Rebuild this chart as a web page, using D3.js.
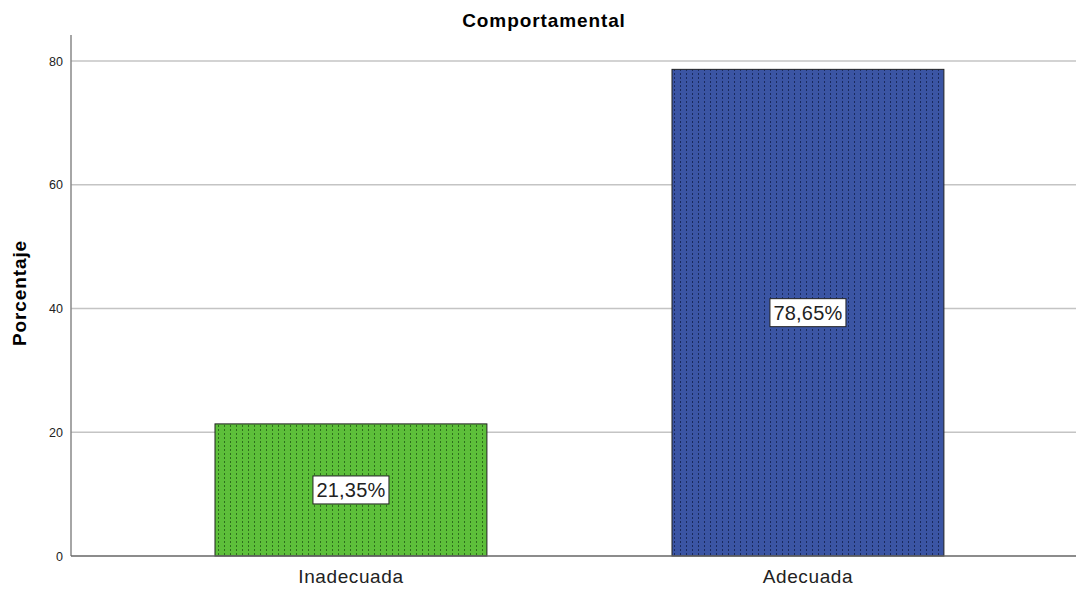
<!DOCTYPE html>
<html>
<head>
<meta charset="utf-8">
<script src="https://cdn.jsdelivr.net/npm/d3@7"></script>
<style>
  body { margin: 0; background: #fff; }
  svg { display: block; font-family: "Liberation Sans", Arial, sans-serif; }
</style>
</head>
<body>
<svg id="chart" width="1076" height="589"></svg>
<script>
const categories = ['Inadecuada', 'Adecuada'];
const values = [21.35, 78.65];
const yTicks = [0, 20, 40, 60, 80];
const fills = ['#5dbf3a', '#3b55a4'];
const dots = ['#2e6e1c', '#1a2a5e'];

const svg = d3.select('#chart');
const plot = { left: 71, right: 1076, top: 35, bottom: 556 };

const yScale = d3.scaleLinear().domain([0, 80]).range([plot.bottom, 61]);
const xScale = d3.scaleBand()
  .domain(categories)
  .range([169.3, 989.6])
  .paddingInner(0.405)
  .paddingOuter(0.1);

// dotted fill patterns
const defs = svg.append('defs');
fills.forEach((c, i) => {
  const p = defs.append('pattern')
    .attr('id', 'pat' + i)
    .attr('patternUnits', 'userSpaceOnUse')
    .attr('width', 6).attr('height', 4);
  p.append('rect').attr('width', 6).attr('height', 4).attr('fill', c);
  p.append('rect').attr('x', 2).attr('y', 1).attr('width', 1).attr('height', 2).attr('fill', dots[i]);
});

// gridlines
svg.append('g')
  .selectAll('line')
  .data(yTicks.filter(d => d > 0))
  .join('line')
  .attr('x1', plot.left).attr('x2', plot.right)
  .attr('y1', d => yScale(d)).attr('y2', d => yScale(d))
  .attr('stroke', '#c4c4c4').attr('stroke-width', 1.5);

// bars
svg.append('g')
  .selectAll('rect')
  .data(categories)
  .join('rect')
  .attr('x', d => xScale(d))
  .attr('y', (d, i) => yScale(values[i]))
  .attr('width', xScale.bandwidth())
  .attr('height', (d, i) => yScale(0) - yScale(values[i]))
  .attr('fill', (d, i) => `url(#pat${i})`)
  .attr('stroke', '#222').attr('stroke-width', 1);

// y axis
const yAxis = svg.append('g')
  .attr('transform', `translate(${plot.left},0)`)
  .call(d3.axisLeft(yScale).tickValues(yTicks).tickSize(0).tickPadding(8));
yAxis.select('.domain').remove();
yAxis.selectAll('text').attr('font-size', 12.5).attr('fill', '#222')
  .attr('font-family', '"Liberation Sans", Arial, sans-serif');
svg.append('line')
  .attr('x1', plot.left).attr('x2', plot.left).attr('y1', plot.top).attr('y2', plot.bottom)
  .attr('stroke', '#888').attr('stroke-width', 1.5);

// x axis
const xAxis = svg.append('g')
  .attr('transform', `translate(0,${plot.bottom})`)
  .call(d3.axisBottom(xScale).tickSize(0).tickPadding(14));
xAxis.select('.domain').remove();
xAxis.selectAll('text').attr('font-size', 19).attr('fill', '#222')
  .attr('letter-spacing', '0.6px')
  .attr('font-family', '"Liberation Sans", Arial, sans-serif');
svg.append('line')
  .attr('x1', plot.left).attr('x2', plot.right).attr('y1', plot.bottom).attr('y2', plot.bottom)
  .attr('stroke', '#666').attr('stroke-width', 1.5);

// value labels
const labels = svg.append('g')
  .selectAll('g')
  .data(categories)
  .join('g')
  .attr('transform', (d, i) =>
    `translate(${xScale(d) + xScale.bandwidth() / 2},${(yScale(0) + yScale(values[i])) / 2})`);
labels.append('rect')
  .attr('x', -38).attr('y', -14).attr('width', 76).attr('height', 28)
  .attr('fill', '#fff').attr('stroke', '#222').attr('stroke-width', 1);
labels.append('text')
  .attr('text-anchor', 'middle').attr('dy', '0.36em')
  .attr('font-size', 20).attr('fill', '#222')
  .attr('letter-spacing', '0.2px')
  .text((d, i) => values[i].toFixed(2).replace('.', ',') + '%');

// title
svg.append('text')
  .attr('x', 544).attr('y', 27)
  .attr('text-anchor', 'middle')
  .attr('font-size', 19).attr('font-weight', 'bold')
  .attr('letter-spacing', '0.9px')
  .text('Comportamental');

// y label
svg.append('text')
  .attr('transform', 'translate(26,293) rotate(-90)')
  .attr('text-anchor', 'middle')
  .attr('font-size', 19).attr('font-weight', 'bold')
  .attr('letter-spacing', '0.9px')
  .text('Porcentaje');
</script>
</body>
</html>
